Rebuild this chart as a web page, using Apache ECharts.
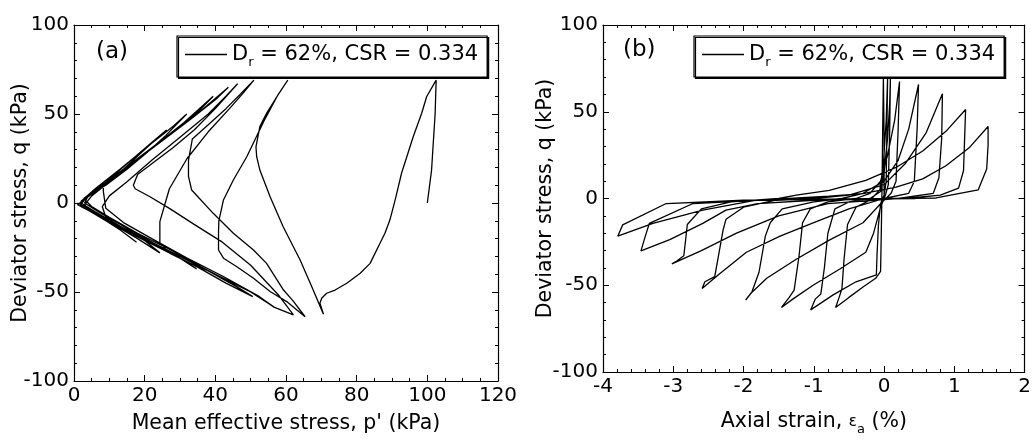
<!DOCTYPE html>
<html>
<head>
<meta charset="utf-8">
<script src="https://cdn.jsdelivr.net/npm/echarts@6/dist/echarts.min.js"></script>
<style>
  html, body { margin: 0; padding: 0; background: #fff; }
  #chart { width: 1034px; height: 441px; }
</style>
</head>
<body>
<div id="chart"></div>
<script>
// (a) effective stress path: [p' (kPa), q (kPa)]
var stressPath = [
  [100, 0], [101.2, 18.5], [102.2, 50], [102.5, 69],
  [99.8, 59.7], [98.4, 50.4], [96, 37.2], [92.7, 16.7], [90.9, 1.8], [89.4, -9.6], [88, -17], [86.6, -22.6],
  [83.8, -33.9], [81, -39.5], [77.2, -45.1], [73.9, -48.9], [71.5, -50.7], [70.1, -53.5], [69.6, -56.3], [70.6, -62.5],
  [67.3, -47], [64, -32], [59.2, -13.3], [55.5, 3.5], [52.6, 18.5], [51.7, 26], [51.5, 31.6], [52.6, 42.9],
  [54.5, 50.4], [57.4, 59.7], [60.5, 69],
  [57.5, 60], [54, 47], [48.9, 26], [45.1, 12.9], [42.3, 1.7], [41, -10], [40.9, -16], [40.9, -26.4], [42.3, -31],
  [46, -35.7], [50.8, -42.3], [55.5, -49.7], [60.2, -55.4], [65.4, -63.9],
  [62, -55], [59.3, -48.9], [54.5, -33.9], [50.8, -26.4], [45.1, -17], [39.4, -5.8], [33.3, 7.3], [32.4, 15], [32.4, 24],
  [33.5, 36], [38, 44], [43, 53], [47, 61], [50.9, 69],
  [48, 62], [44, 53], [38, 40], [32, 25], [27, 8], [24.3, -10.5], [24.3, -22.7], [27.2, -28.3], [31.9, -33],
  [38.5, -38.6], [45.1, -45.1], [50.8, -50.7], [56.4, -58.3], [62.1, -62.9],
  [58, -52], [50, -35], [42, -22], [34, -12], [27, -3], [21.5, 3.5], [17.3, 8], [16.8, 10], [18, 16], [22, 22],
  [28, 31], [34, 41], [40, 53], [46.3, 67],
  [43, 60], [38, 50], [30, 37], [22, 24], [15, 12], [10, 4], [8, -2], [9, -8], [13, -13], [20, -20], [28, -28],
  [36, -36], [44, -44], [50, -50], [56.7, -58.6],
  [52, -52], [42, -41], [32, -31], [22, -20], [14, -11], [9, -3], [8.3, 6.5], [8.3, 10], [12, 16], [18, 25],
  [24, 34], [30, 43], [36, 52], [43.7, 65],
  [40, 58], [33, 47], [25, 35], [17, 23], [10, 12], [5, 4], [3, -1], [5, -5], [10, -10], [18, -19], [27, -28],
  [35, -36], [43, -45], [50.6, -52.6],
  [46, -47], [37, -37], [27, -26], [18, -17], [10, -8], [5, -2], [3, 2], [5, 6], [10, 13], [17, 23], [24, 34],
  [31, 45], [39.4, 60],
  [36, 53], [30, 43], [22, 31], [14, 19], [7, 8], [3, 2], [2, -1], [5, -5], [10, -10], [17, -17], [24, -25],
  [30, -31], [34.7, -37],
  [30, -31], [22, -22], [14, -13], [7, -5], [3, 0], [4, 4], [9, 10], [15, 19], [21, 29], [26, 38], [31.9, 50],
  [28, 43], [21, 32], [13, 19], [6, 8], [2, 1], [2, -2], [6, -6], [12, -13], [18, -20], [24.3, -28],
  [20, -21], [13, -13], [6, -5], [2, 0], [3, 3], [8, 10], [14, 19], [20, 30], [26.2, 41],
  [22, 34], [15, 22], [8, 10], [3, 2], [1, -1], [4, -4], [9, -10], [13, -15], [17.7, -22],
  [13, -15], [7, -7], [3, -2], [1, 0]
];

// (b) stress-strain loops: [axial strain (%), q (kPa)]
var strainPath = [
  [0, 0], [0.0, 35], [-0.01, 69.8],
  [-0.02, 40], [-0.03, 5], [-0.04, -20], [-0.05, -42], [-0.12, -46], [-0.3, -51], [-0.5, -57], [-0.69, -62.8],
  [-0.64, -57], [-0.6, -52], [-0.57, -35], [-0.52, -15], [-0.4, -5], [-0.2, -1], [-0.06, 5], [-0.01, 20], [0.03, 45], [0.05, 69.8],
  [0.04, 40], [0.03, 10], [0.0, 2], [-0.05, -3], [-0.08, -15], [-0.1, -32], [-0.11, -44], [-0.4, -48], [-0.73, -55.7], [-1.045, -64.2],
  [-0.98, -58], [-0.9, -55], [-0.85, -40], [-0.8, -20], [-0.7, -6], [-0.5, -2], [-0.2, 0], [-0.05, 4], [0.0, 15], [0.05, 35], [0.08, 55], [0.09, 69.8],
  [0.08, 40], [0.06, 8], [0.02, 2], [-0.05, -5], [-0.15, -20], [-0.26, -31], [-0.63, -40.6], [-1.01, -50], [-1.3, -58], [-1.46, -62.8],
  [-1.35, -57], [-1.28, -52.8], [-1.21, -33], [-1.16, -14], [-1.05, -6], [-0.8, -2], [-0.4, 0], [-0.2, 3], [-0.05, 10], [0.05, 25], [0.15, 45], [0.22, 67.4],
  [0.2, 40], [0.17, 10], [0.1, 3], [-0.05, -3], [-0.3, -14], [-0.78, -24], [-1.25, -35], [-1.67, -46], [-1.88, -54], [-1.97, -58.5],
  [-1.88, -53.8], [-1.78, -42.5], [-1.69, -21.7], [-1.62, -14], [-1.45, -6], [-1.0, -2], [-0.6, 0], [-0.3, 3], [0.0, 10], [0.2, 22], [0.35, 40], [0.49, 65.7],
  [0.47, 40], [0.43, 10], [0.35, 3], [0.0, 0], [-0.5, -6], [-1.01, -14], [-1.48, -21.7], [-1.96, -31], [-2.34, -43.4], [-2.59, -51.9],
  [-2.55, -48], [-2.41, -45], [-2.29, -18], [-2.25, -12], [-2.0, -5], [-1.54, -1], [-1.0, 0], [-0.5, 2], [0.0, 8], [0.3, 20], [0.6, 38], [0.83, 60.4],
  [0.82, 35], [0.78, 12], [0.7, 3], [0.2, 0], [-0.8, -3], [-1.5, -10], [-2.1, -20], [-2.6, -30], [-3.02, -37.7],
  [-2.95, -36], [-2.85, -33], [-2.8, -15], [-2.6, -6], [-2.18, -2], [-1.5, 0], [-1.25, 1.9], [-0.78, 4.7], [-0.26, 10.4], [0.17, 17.9], [0.55, 27.4], [0.88, 38.7], [1.16, 51.3],
  [1.13, 16], [1.06, 6], [0.8, 2], [0.3, 0], [-1.0, -1], [-1.8, -3], [-2.25, -6.7], [-2.58, -14.3], [-3.05, -23.7], [-3.46, -30.2],
  [-3.40, -22], [-3.34, -14.3], [-2.72, -2.9], [-1.8, -1], [-0.78, 1.3], [-0.30, 2.8], [0.17, 6.6], [0.55, 11.3], [0.88, 18.9], [1.21, 29.2], [1.48, 41.5],
  [1.48, 31], [1.46, 17], [1.34, 5], [0.74, 0.3], [0, 0], [-1.0, -0.5], [-1.82, -1], [-2.58, -6.7], [-3.29, -14.3], [-3.79, -21.7],
  [-3.72, -15.2], [-3.10, -2.9], [-2.0, -1], [-1.0, -0.5], [0.45, 0]
];

var pRange = [0, 120, 20];      // min, max, interval
var strainRange = [-4, 2, 1];
var qRange = [-100, 100, 50];
var legendLabel = 'D{sub|r} = 62%, CSR = 0.334';

var FONT = 'DejaVu Sans';

// one side of the box frame: ticks inside, labels only on left/bottom
function frameAxis(grid, pos, range, minorSplit, withLabel) {
  return {
    type: 'value', gridIndex: grid, position: pos,
    min: range[0], max: range[1], interval: range[2],
    axisLine: { onZero: false, lineStyle: { color: '#000', width: 1.2 } },
    axisTick: { inside: true, length: 6, lineStyle: { color: '#000', width: 1 } },
    minorTick: { show: true, splitNumber: minorSplit, length: 3, lineStyle: { color: '#000', width: 1 } },
    splitLine: { show: false },
    minorSplitLine: { show: false },
    axisLabel: { show: withLabel, color: '#000', fontFamily: FONT, fontSize: 20, margin: 5 },
    nameMoveOverlap: false,
    nameTextStyle: { color: '#000', fontFamily: FONT, fontSize: 20.5 }
  };
}

var xA = frameAxis(0, 'bottom', pRange, 4, true);
xA.name = 'Mean effective stress, p\' (kPa)';
xA.nameLocation = 'middle';
xA.nameGap = 32;

var xB = frameAxis(1, 'bottom', strainRange, 5, true);
xB.name = 'Axial strain, {eps|\u03b5}{sub|a} (%)';
xB.nameLocation = 'middle';
xB.nameGap = 36;
xB.nameTextStyle.lineHeight = 28;
xB.nameTextStyle.rich = {
  eps: { fontFamily: FONT, fontSize: 15, color: '#000', lineHeight: 28 },
  sub: { fontFamily: FONT, fontSize: 13, color: '#000', lineHeight: 28, verticalAlign: 'bottom' }
};

var yA = frameAxis(0, 'left', qRange, 5, true);
yA.name = 'Deviator stress, q (kPa)';
yA.nameLocation = 'middle';
yA.nameGap = 43;

var yB = frameAxis(1, 'left', qRange, 5, true);
yB.name = 'Deviator stress, q (kPa)';
yB.nameLocation = 'middle';
yB.nameGap = 47;

function legendBox(name, left) {
  return {
    data: [name], left: left, top: 36,
    icon: 'rect', itemWidth: 42, itemHeight: 1.6, itemGap: 0,
    padding: [8, 9, 8, 8],
    selectedMode: false,
    formatter: function () { return legendLabel; },
    textStyle: {
      color: '#000', fontFamily: FONT, fontSize: 21,
      rich: { sub: { fontFamily: FONT, fontSize: 13, color: '#000', verticalAlign: 'bottom', padding: [0, 0, -4, 0] } }
    },
    backgroundColor: '#fff', borderColor: '#000', borderWidth: 1.2,
    shadowColor: '#000', shadowBlur: 0, shadowOffsetX: 1.5, shadowOffsetY: 1.5
  };
}

var chart = echarts.init(document.getElementById('chart'));
chart.setOption({
  animation: false,
  backgroundColor: '#fff',
  grid: [
    { left: 74, top: 25, width: 424, height: 356 },
    { left: 603, top: 25, width: 423, height: 353 }
  ],
  xAxis: [xA, frameAxis(0, 'top', pRange, 4, false), xB, frameAxis(1, 'top', strainRange, 5, false)],
  yAxis: [yA, frameAxis(0, 'right', qRange, 5, false), yB, frameAxis(1, 'right', qRange, 5, false)],
  legend: [legendBox('pathA', 177), legendBox('pathB', 694)],
  graphic: [
    { type: 'text', left: 96, top: 41, style: { text: '(a)', font: '23px "DejaVu Sans"', fill: '#000' } },
    { type: 'text', left: 623, top: 39, style: { text: '(b)', font: '23px "DejaVu Sans"', fill: '#000' } }
  ],
  series: [
    {
      name: 'pathA', type: 'line', xAxisIndex: 0, yAxisIndex: 0,
      data: stressPath, showSymbol: false, symbol: 'none',
      lineStyle: { color: '#000', width: 1.3 }, itemStyle: { color: '#000' }
    },
    {
      name: 'pathB', type: 'line', xAxisIndex: 2, yAxisIndex: 2,
      data: strainPath, showSymbol: false, symbol: 'none',
      lineStyle: { color: '#000', width: 1.3 }, itemStyle: { color: '#000' }
    }
  ]
});
</script>
</body>
</html>
